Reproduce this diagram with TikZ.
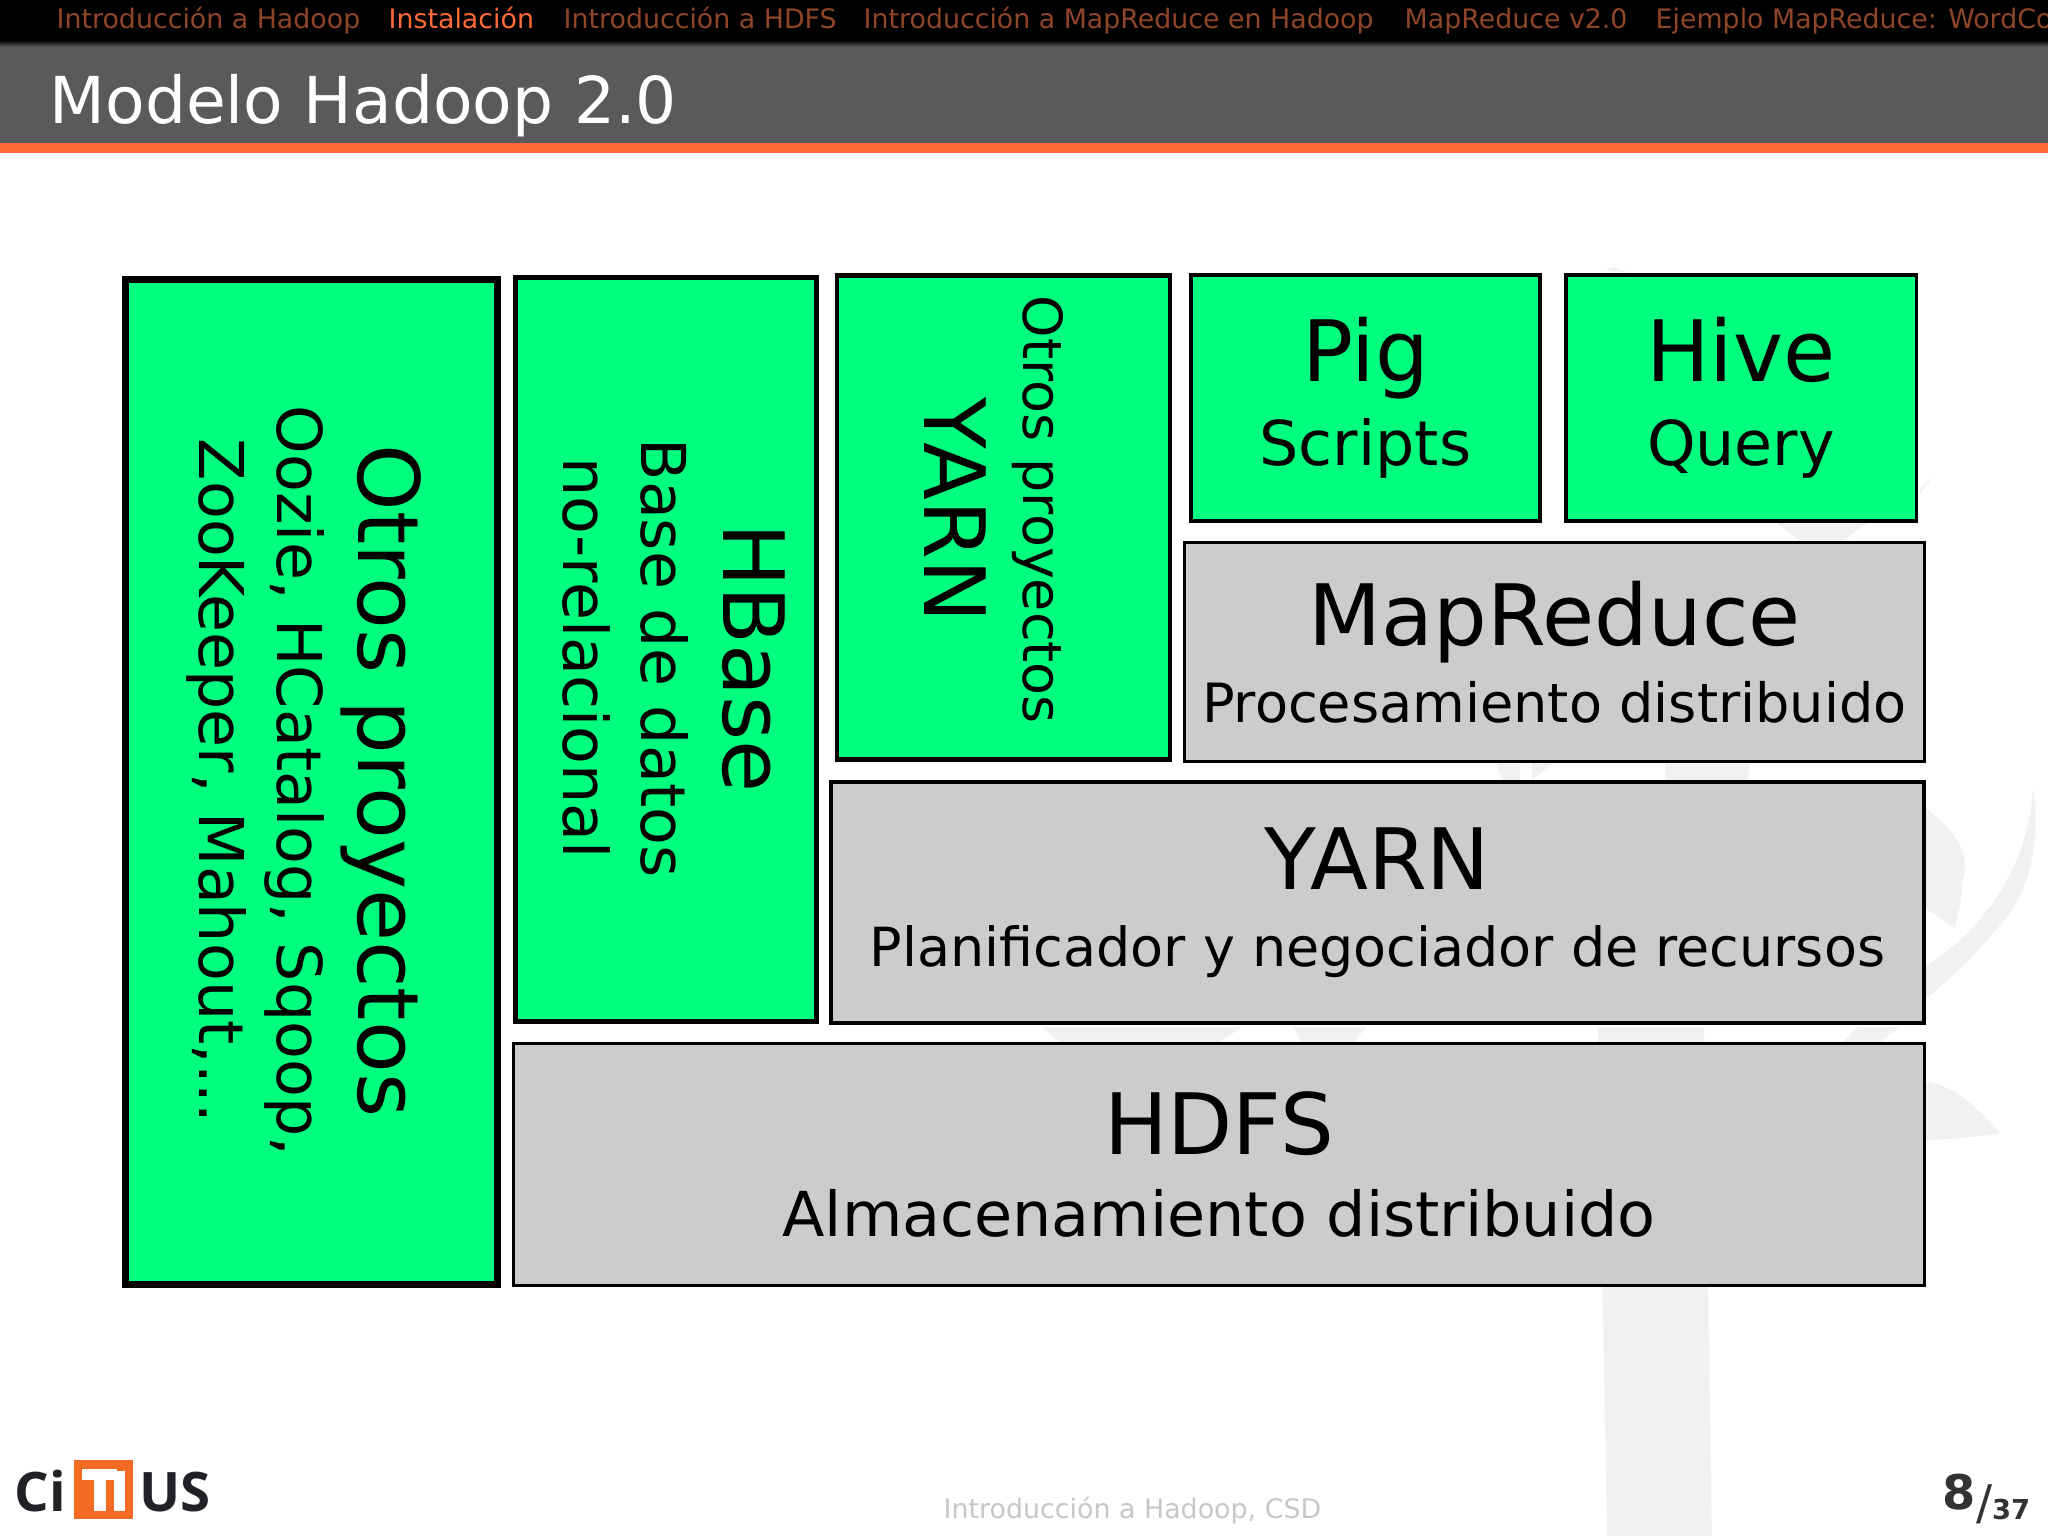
\documentclass[tikz,border=0pt]{standalone}
\usepackage{fontspec}
\setmainfont{DejaVu Sans}
\newfontfamily\logofont{Open Sans}
\usetikzlibrary{positioning, shapes}

\definecolor{navorange}{HTML}{FF6B35}
\definecolor{navdim}{HTML}{8F4628}
\definecolor{bargrey}{HTML}{5A595B}
\definecolor{boxgreen}{HTML}{00FF7F}
\definecolor{boxgrey}{HTML}{CDCBCE}
\definecolor{treegrey}{HTML}{F1F0F3}
\definecolor{logoorange}{HTML}{F26A24}
\definecolor{logodark}{HTML}{222226}

\newcommand{\headtxt}[1]{{\fontsize{24.1}{28}\selectfont #1}}

\tikzset{
    greenbox/.style={draw=black, fill=boxgreen, align=center, inner sep=0pt},
    greybox/.style={draw=black, fill=boxgrey, align=center, inner sep=0pt},
    sidetext/.style={rotate=-90, align=center, inner sep=0pt},
    subtext/.style 2 args={font=\fontsize{#1}{#2}\selectfont},
    navitem/.style={anchor=base west, inner sep=0pt, font=\fontsize{7.63}{9}\selectfont, text=navdim},
    tree/.style={fill=treegrey, draw=none}
}

\begin{document}
\begin{tikzpicture}[y=-1cm]
    \useasboundingbox (0,0) rectangle (20.48,15.36);
    \clip (0,0) rectangle (20.48,15.36);

    % tree in the background
    \fill[tree] (15.98,10.27) -- (17.04,10.27) -- (17.12,15.36) -- (16.07,15.36) -- cycle;
    \fill[tree] (10.42,10.27) -- (12.42,10.27) -- (12.20,10.42) -- (10.60,10.42) -- cycle;
    \fill[tree] (12.93,10.27) -- (13.66,10.27) -- (13.54,10.42) -- (13.02,10.42) -- cycle;
    \fill[tree] (18.58,10.27) -- (19.00,10.27) -- (18.80,10.42) -- (18.43,10.42) -- cycle;
    \fill[tree] (14.96,7.63) -- (15.20,7.63) -- (15.20,7.80) -- (15.02,7.80) -- cycle;
    \fill[tree] (15.32,7.63) -- (15.53,7.63) -- (15.32,7.80) -- cycle;
    \fill[tree] (16.65,7.63) -- (17.50,7.63) -- (17.48,7.80) -- (16.65,7.80) -- cycle;
    \fill[tree] (17.77,5.23) -- (18.67,5.23) -- (18.43,5.41) -- (18.00,5.41) -- cycle;
    \fill[tree] (16.05,2.70) -- (16.13,2.67) -- (16.30,2.73) -- cycle;
    \fill[tree] (19.20,4.88) -- (19.32,4.77) -- (19.20,4.95) -- cycle;
    \fill[tree] (19.20,8.04) .. controls (19.50,8.25) and (19.72,8.50) .. (19.63,8.79)
        .. controls (19.62,8.98) and (19.58,9.15) .. (19.55,9.28)
        -- (19.20,9.05) -- cycle;
    \fill[tree] (19.20,9.70) .. controls (19.70,9.40) and (20.28,8.80) .. (20.33,7.87)
        .. controls (20.40,8.30) and (20.34,8.90) .. (20.00,9.25)
        .. controls (19.80,9.50) and (19.50,9.80) .. (19.20,10.03) -- cycle;
    \fill[tree] (19.20,10.81) .. controls (19.50,10.82) and (19.75,11.05) .. (20.00,11.33)
        .. controls (19.70,11.38) and (19.40,11.40) .. (19.20,11.40) -- cycle;

    % header
    \fill[black] (0,0) rectangle (20.48,0.40);
    \shade[top color=black, bottom color=bargrey] (0,0.40) rectangle (20.48,0.47);
    \fill[bargrey] (0,0.47) rectangle (20.48,1.43);
    \fill[navorange] (0,1.43) rectangle (20.48,1.53);

    \node[navitem] (nav1) at (0.56,0.29) {Introducción a Hadoop};
    \node[navitem, text=navorange] (nav2) at (3.88,0.29) {Instalación};
    \node[navitem] (nav3) at (5.63,0.29) {Introducción a HDFS};
    \node[navitem] (nav4) at (8.63,0.29) {Introducción a MapReduce en Hadoop};
    \node[navitem] (nav5) at (14.04,0.29) {MapReduce v2.0};
    \node[navitem] (nav6) at (16.55,0.29) {Ejemplo MapReduce: WordCount};

    \node[anchor=base west, inner sep=0pt, text=white, font=\fontsize{18.4}{22}\selectfont] (title) at (0.49,1.24) {Modelo Hadoop 2.0};

    % vertical boxes
    \node[greenbox, line width=1.9pt, minimum width=3.72cm, minimum height=10.05cm] (otros) at (3.115,7.82) {};
    \node[greenbox, line width=1.4pt, minimum width=3.01cm, minimum height=7.44cm] (hbase) at (6.66,6.495) {};
    \node[greenbox, line width=1.4pt, minimum width=3.33cm, minimum height=4.84cm] (yarnotros) at (10.035,5.175) {};
    \node[sidetext, subtext={17.6}{22.2}] (otrostext) at (3.04,7.81)
        {\headtxt{Otros proyectos}\\[1pt]Oozie, HCatalog, Sqoop,\\ZooKeeper, Mahout,...};
    \node[sidetext, subtext={17.6}{22.2}] (hbasetext) at (6.74,6.58)
        {\headtxt{HBase}\\[1pt]Base de datos\\no-relacional};
    \node[sidetext, subtext={15.35}{27.9}] (yarnotrostext) at (9.94,5.10)
        {Otros proyectos\\\headtxt{YARN}};

    % upper layers
    \node[greenbox, line width=1pt, minimum width=3.495cm, minimum height=2.465cm, subtext={17.6}{23.9}] (pig) at (13.655,3.98)
        {\headtxt{Pig}\\Scripts};
    \node[greenbox, line width=1pt, minimum width=3.505cm, minimum height=2.465cm, subtext={17.6}{23.9}] (hive) at (17.41,3.98)
        {\headtxt{Hive}\\Query};
    \node[greybox, line width=0.9pt, minimum width=7.40cm, minimum height=2.19cm, subtext={15.4}{22.0}] (mapreduce) at (15.545,6.52)
        {\headtxt{MapReduce}\\Procesamiento distribuido};
    \node[greybox, line width=1.1pt, minimum width=10.93cm, minimum height=2.41cm, subtext={15.35}{21.9}] (yarn) at (13.775,9.025)
        {\headtxt{YARN}\\Planificador y negociador de recursos};
    \node[greybox, line width=0.9pt, minimum width=14.11cm, minimum height=2.42cm, subtext={17.63}{23.3}] (hdfs) at (12.19,11.645)
        {\headtxt{HDFS}\\Almacenamiento distribuido};

    % footer
    \node[anchor=base west, inner sep=0pt, text=black!22, font=\fontsize{7.64}{9}\selectfont] (footer) at (9.43,15.18) {Introducción a Hadoop, CSD};
    \node[anchor=base east, inner sep=0pt, text=black!80, font=\fontsize{13.6}{16}\bfseries\selectfont] (page) at (20.31,15.09)
        {8\raisebox{-3.1pt}{\mdseries/}\raisebox{-3.1pt}{\fontsize{7.8}{9}\selectfont 37}};

    % logo
    \node[anchor=base east, inner sep=0pt, text=logodark, font=\logofont\fontsize{15.5}{18}\bfseries\selectfont] (logoci) at (0.67,15.11) {Ci};
    \fill[logoorange] (0.74,14.60) rectangle (1.33,15.19);
    \fill[white] (0.82,14.69) rectangle (1.17,14.80);
    \fill[white] (0.94,14.80) rectangle (1.06,15.11);
    \fill[white] (1.14,14.71) rectangle (1.25,15.11);
    \node[anchor=base west, inner sep=0pt, text=logodark, font=\logofont\fontsize{15.5}{18}\bfseries\selectfont] (logous) at (1.39,15.11) {US};
\end{tikzpicture}
\end{document}
